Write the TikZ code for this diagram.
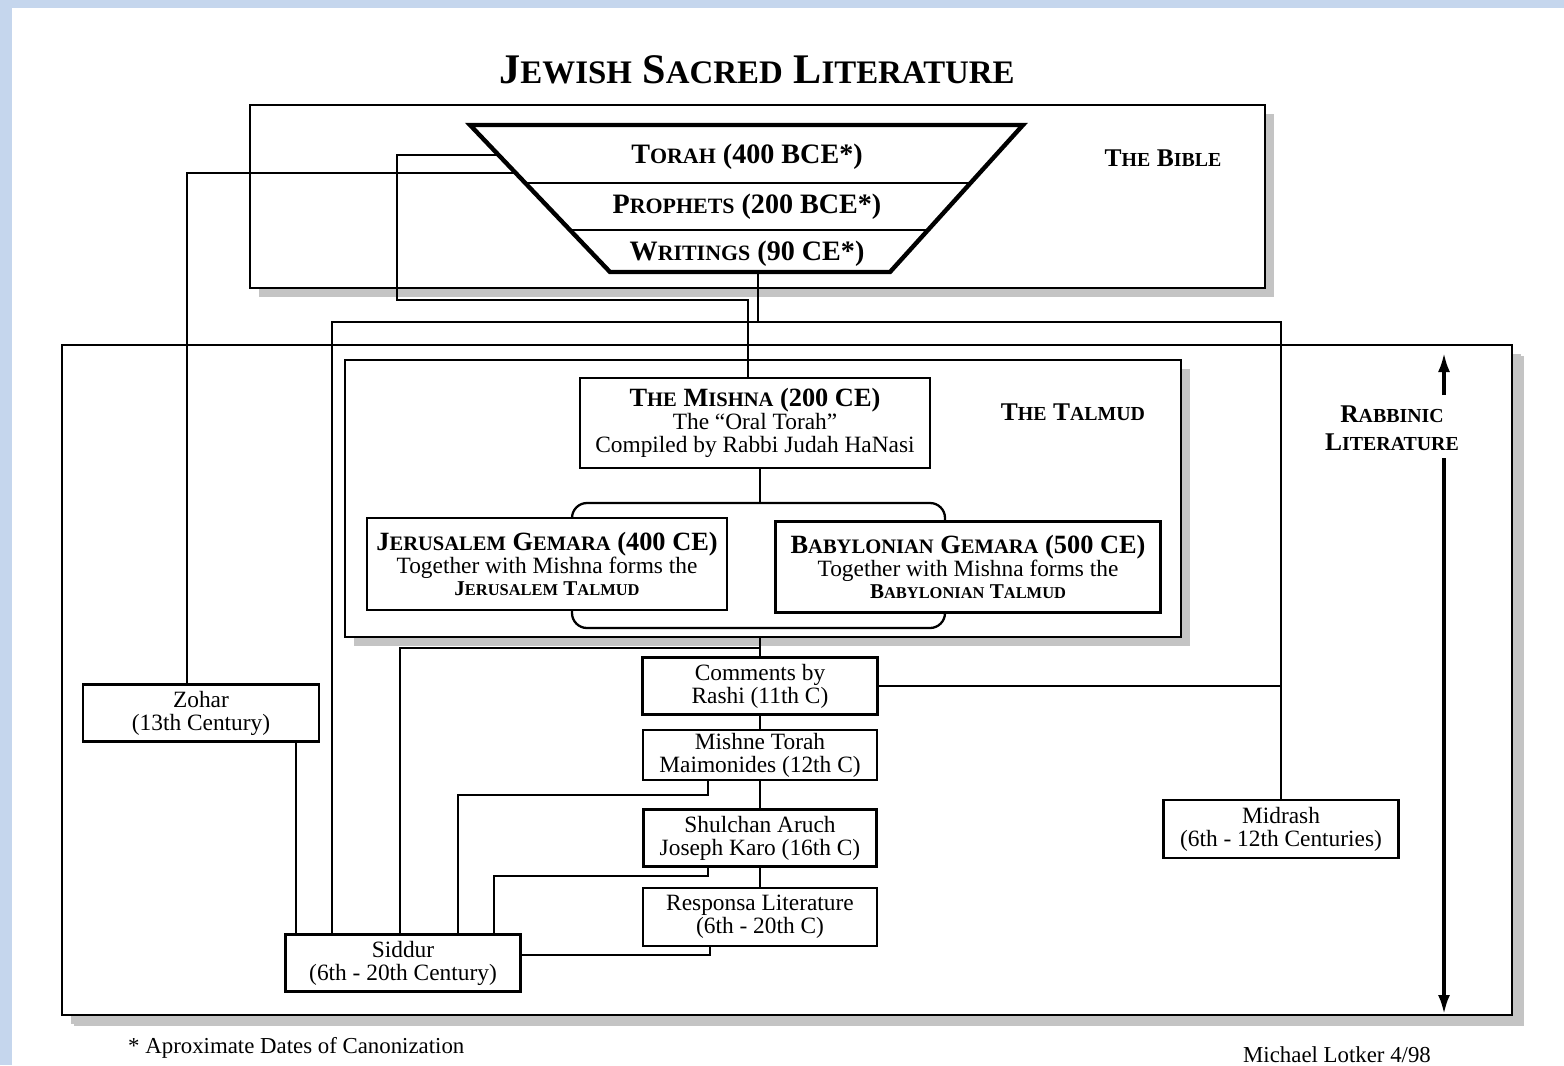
\documentclass[tikz,border=0pt]{standalone}
\usepackage{fontspec}
\setmainfont{Liberation Serif}
\usetikzlibrary{calc,arrows.meta,shadows}
\makeatletter
\newcommand{\sm}[1]{{\fontsize{\fpeval{0.78*\f@size}}{\f@baselineskip}\selectfont #1}}
\makeatother
\definecolor{stripblue}{RGB}{197,214,237}
\definecolor{shade}{RGB}{196,196,196}

\begin{document}
\begin{tikzpicture}[x=0.02cm,y=-0.02cm,
    link/.style={line width=1.3pt},
    frame/.style={line width=1.3pt,fill=white,
      drop shadow={shadow xshift=0.18cm,shadow yshift=-0.18cm,fill=shade,opacity=1}},
    box/.style={draw,line width=1.4pt,fill=white,inner sep=0pt,align=center,
      font=\fontsize{13.3}{13}\selectfont},
    tag/.style={align=center,font=\fontsize{14.5}{16}\selectfont\bfseries},
    bibletext/.style={font=\fontsize{16}{16}\selectfont\bfseries}]
    \fill[white] (0,0) rectangle (1564,1065);
    \useasboundingbox (0,0) rectangle (1564,1065);
    \fill[stripblue] (0,0) rectangle (1564,8);
    \fill[stripblue] (0,0) rectangle (12,1065);

    \node[font=\fontsize{24}{24}\selectfont\bfseries] (title) at (757,70)
        {J\sm{EWISH} S\sm{ACRED} L\sm{ITERATURE}};

    % the three frames
    \draw[frame,drop shadow={shadow xshift=0.24cm,shadow yshift=-0.22cm,fill=shade,opacity=1}]
        (62,345) rectangle (1512,1015);
    \draw[frame,line width=1.6pt] (250,105) rectangle (1265,288);
    \draw[frame] (345,360) rectangle (1181,637);

    % the bible as a funnel
    \coordinate (tl) at (470,125);
    \coordinate (tr) at (1023,125);
    \coordinate (br) at (890,272);
    \coordinate (bl) at (610,272);
    \draw[line width=2.5pt] (tl) -- (tr) -- (br) -- (bl) -- cycle;
    \draw[link] ($(tl)!0.395!(bl)$) -- ($(tr)!0.395!(br)$);
    \draw[link] ($(tl)!0.714!(bl)$) -- ($(tr)!0.714!(br)$);
    \path (tl) -- (bl) coordinate[pos=0.204] (tzA) coordinate[pos=0.327] (tzB);
    \path (bl) -- (br) coordinate[pos=0.529] (tzC);

    \node[bibletext] (torah) at (747,157) {T\sm{ORAH} (400 BCE*)};
    \node[bibletext] (prophets) at (747,207) {P\sm{ROPHETS} (200 BCE*)};
    \node[bibletext] (writings) at (747,254) {W\sm{RITINGS} (90 CE*)};
    \node[tag] (bible) at (1163,158) {T\sm{HE} B\sm{IBLE}};
    \node[tag] (talmud) at (1073,412) {T\sm{HE} T\sm{ALMUD}};
    \node[tag] (rabbinic) at (1392,428) {R\sm{ABBINIC}\\L\sm{ITERATURE}};

    % mishna and gemara
    \draw[link,rounded corners=0.3cm] (572,503) rectangle (945,628);
    \node[box,minimum width=7cm,minimum height=1.8cm] (mishna) at (755,423)
        {{\fontsize{15}{13}\selectfont\bfseries T\sm{HE} M\sm{ISHNA} (200 CE)}\\
         The “Oral Torah”\\Compiled by Rabbi Judah HaNasi};
    \node[box,minimum width=7.2cm,minimum height=1.84cm] (jerusalem) at (547,564)
        {{\fontsize{15}{13}\selectfont\bfseries J\sm{ERUSALEM} G\sm{EMARA} (400 CE)}\\
         Together with Mishna forms the\\
         {\fontsize{12}{13}\selectfont\bfseries J\sm{ERUSALEM} T\sm{ALMUD}}};
    \node[box,minimum width=7.7cm,minimum height=1.82cm] (babylon) at (968,567)
        {{\fontsize{15}{13}\selectfont\bfseries B\sm{ABYLONIAN} G\sm{EMARA} (500 CE)}\\
         Together with Mishna forms the\\
         {\fontsize{12}{13}\selectfont\bfseries B\sm{ABYLONIAN} T\sm{ALMUD}}};
    \coordinate (talmudfoot) at (760,637);

    % later works
    \node[box,minimum width=4.72cm,minimum height=1.14cm] (zohar) at (201,713)
        {Zohar\\(13th Century)};
    \node[box,minimum width=4.7cm,minimum height=1.14cm] (siddur) at (403,963)
        {Siddur\\(6th - 20th Century)};
    \node[box,minimum width=4.7cm,minimum height=1.14cm] (rashi) at (760,686)
        {Comments by\\Rashi (11th C)};
    \node[box,minimum width=4.68cm,minimum height=1cm] (mishne) at (760,755)
        {Mishne Torah\\Maimonides (12th C)};
    \node[box,minimum width=4.66cm,minimum height=1.14cm] (shulchan) at (760,838)
        {Shulchan Aruch\\Joseph Karo (16th C)};
    \node[box,minimum width=4.68cm,minimum height=1.16cm] (responsa) at (760,917)
        {Responsa Literature\\(6th - 20th C)};
    \node[box,minimum width=4.7cm,minimum height=1.16cm] (midrash) at (1281,829)
        {Midrash\\(6th - 12th Centuries)};

    % connectors
    \draw[link] (tzA) -| (397,300) -| (mishna.north -| 748,0);
    \draw[link] (tzB) -| (zohar.north -| 187,0);
    \draw[link] (tzC) -- (tzC |- 0,322);
    \draw[link] (siddur.north -| 332,0) |- (1281,322) -- (midrash.north);
    \draw[link] (rashi.east) -- (rashi.east -| midrash.north);
    \draw[link] (mishna.south -| 760,0) -- (760,503);
    \draw[link] (talmudfoot) -- (rashi.north);
    \draw[link] (siddur.north -| 400,0) |- (760,648);
    \draw[link] (zohar.south -| 296,0) -- (siddur.north -| 296,0);
    \draw[link] (rashi.south) -- (mishne.north);
    \draw[link] (mishne.south) -- (shulchan.north);
    \draw[link] (shulchan.south) -- (responsa.north);
    \draw[link] (mishne.south -| 708,0) |- (458,795) -- (siddur.north -| 458,0);
    \draw[link] (shulchan.south -| 708,0) |- (494,876) -- (siddur.north -| 494,0);
    \draw[link] (responsa.south -| 710,0) |- (siddur.east |- 0,955);

    % the time arrow
    \draw[link,line width=1.8pt,-{Latex[length=0.38cm,width=0.24cm]}] (1444,395) -- (1444,353);
    \draw[link,line width=1.8pt,-{Latex[length=0.38cm,width=0.24cm]}] (1444,458) -- (1444,1014);

    \node[anchor=west,font=\fontsize{13}{13}\selectfont] (note) at (122,1048)
        {* Aproximate Dates of Canonization};
    \node[font=\fontsize{13}{13}\selectfont] (sign) at (1337,1055) {Michael Lotker 4/98};
\end{tikzpicture}
\end{document}
